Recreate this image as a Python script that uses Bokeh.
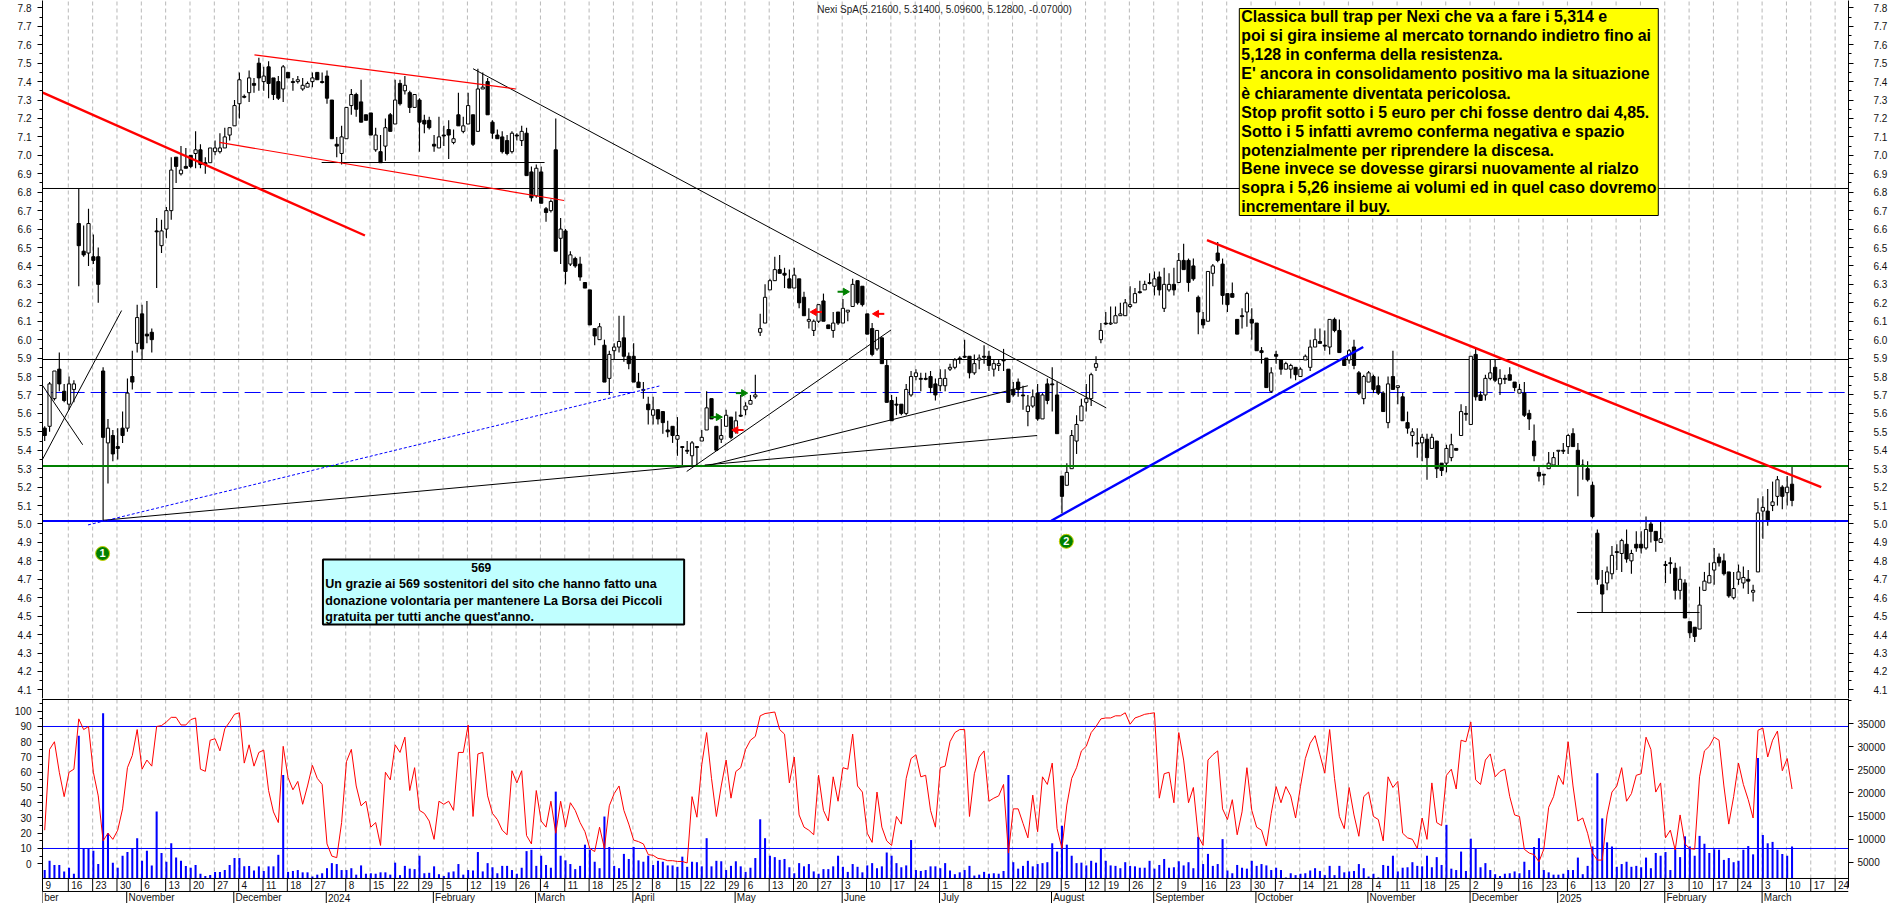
from bokeh.plotting import figure
from bokeh.layouts import column
from bokeh.embed import file_html
from bokeh.resources import INLINE
from bokeh.core.properties import value
from bokeh.models import Range1d, LinearAxis, SingleIntervalTicker, FixedTicker, PrintfTickFormatter, Label

opens = [
5.52,5.53,5.68,5.84,5.72,5.65,5.73,6.63,6.48,6.47,6.45,6.45,5.83,5.44,5.48,5.42,5.52,5.52,5.80,5.98,
6.14,6.03,6.04,6.59,6.51,6.60,6.70,6.99,6.90,6.94,7.00,7.01,7.03,6.96,6.96,7.02,7.02,7.04,7.11,7.16,
7.28,7.32,7.34,7.39,7.50,7.40,7.48,7.42,7.40,7.36,7.45,7.40,7.40,7.36,7.37,7.40,7.45,7.40,7.43,7.30,
7.06,7.01,7.09,7.27,7.33,7.29,7.22,7.23,7.03,7.02,7.05,7.22,7.17,7.39,7.35,7.34,7.26,7.30,7.19,7.19,
7.06,7.04,7.11,7.14,7.07,7.22,7.13,7.17,7.22,7.13,7.36,7.40,7.18,7.11,7.10,7.08,7.02,7.11,7.08,7.12,
6.91,6.78,6.91,6.71,6.70,7.03,6.55,6.59,6.41,6.44,6.41,6.31,6.27,6.06,6.00,5.97,5.79,5.94,5.96,6.01,
5.91,5.91,5.77,5.725,5.65,5.59,5.62,5.61,5.51,5.53,5.46,5.42,5.40,5.37,5.42,5.45,5.51,5.68,5.53,5.46,
5.53,5.58,5.50,5.59,5.62,5.65,5.69,6.04,6.09,6.27,6.32,6.38,6.36,6.33,6.28,6.33,6.23,6.10,6.05,6.10,
6.21,6.08,6.05,6.15,6.09,6.15,6.18,6.32,6.29,6.14,6.06,5.95,6.01,5.86,5.67,5.65,5.65,5.60,5.70,5.80,
5.79,5.79,5.80,5.76,5.75,5.75,5.84,5.85,5.90,5.91,5.91,5.82,5.89,5.91,5.91,5.84,5.86,5.89,5.84,5.73,
5.77,5.70,5.61,5.64,5.71,5.57,5.76,5.76,5.70,5.26,5.21,5.30,5.45,5.56,5.66,5.68,5.85,6.00,6.09,6.085,
6.09,6.13,6.13,6.18,6.20,6.26,6.27,6.31,6.29,6.34,6.17,6.27,6.30,6.31,6.43,6.43,6.40,6.23,6.11,6.10,
6.36,6.47,6.41,6.25,6.25,6.11,6.13,6.15,6.11,6.09,5.94,5.90,5.72,5.92,5.89,5.84,5.84,5.85,5.80,5.89,
5.85,5.96,5.99,5.97,5.96,6.11,6.05,5.90,5.89,5.96,5.82,5.68,5.77,5.80,5.75,5.71,5.55,5.80,5.74,5.69,
5.55,5.48,5.44,5.44,5.46,5.41,5.45,5.33,5.33,5.36,5.41,5.48,5.60,5.54,5.92,5.70,5.70,5.79,5.85,5.76,
5.79,5.81,5.77,5.71,5.71,5.60,5.45,5.28,5.27,5.30,5.32,5.395,5.40,5.42,5.49,5.40,5.32,5.30,5.21,4.95,
4.67,4.68,4.73,4.85,4.84,4.89,4.80,4.89,4.89,4.87,5.00,4.96,4.90,4.78,4.79,4.76,4.64,4.68,4.47,4.44,
4.43,4.64,4.68,4.75,4.82,4.80,4.74,4.60,4.70,4.68,4.70,4.63,4.74,5.07,5.07,5.10,5.15,5.20,5.17,5.216]
closes = [
5.48,5.76,5.83,5.76,5.67,5.76,5.76,6.51,6.46,6.63,6.43,6.30,5.47,5.52,5.38,5.41,5.48,5.71,5.77,6.12,
5.95,6.02,6.00,6.585,6.59,6.70,6.92,6.94,6.92,6.93,6.94,7.03,6.95,6.95,7.04,7.04,7.04,7.10,7.15,7.27,
7.41,7.315,7.42,7.38,7.42,7.43,7.39,7.33,7.31,7.48,7.42,7.395,7.41,7.38,7.39,7.42,7.41,7.395,7.31,7.09,
7.05,7.10,7.26,7.33,7.25,7.18,7.19,7.11,7.11,6.96,7.15,7.13,7.30,7.28,7.38,7.26,7.33,7.18,7.17,7.15,
7.05,7.10,7.105,7.11,7.09,7.16,7.16,7.27,7.06,7.36,7.37,7.22,7.12,7.09,7.02,7.01,7.12,7.105,7.13,6.89,
6.77,6.93,6.74,6.69,6.75,6.48,6.60,6.37,6.46,6.40,6.34,6.28,6.08,6.02,6.07,5.77,5.92,5.96,5.99,5.91,
5.87,5.77,5.74,5.73,5.62,5.62,5.57,5.55,5.50,5.48,5.48,5.415,5.395,5.44,5.415,5.47,5.63,5.57,5.40,5.48,
5.59,5.47,5.56,5.585,5.64,5.67,5.70,6.06,6.23,6.32,6.38,6.36,6.35,6.28,6.35,6.20,6.13,6.11,6.10,6.19,
6.10,6.06,6.09,6.09,6.17,6.16,6.30,6.20,6.19,6.03,5.92,6.05,5.87,5.66,5.56,5.645,5.60,5.73,5.80,5.82,
5.785,5.785,5.74,5.70,5.79,5.79,5.85,5.89,5.895,5.905,5.82,5.87,5.90,5.905,5.86,5.87,5.87,5.885,5.66,5.70,
5.73,5.695,5.64,5.69,5.57,5.70,5.67,5.755,5.49,5.15,5.28,5.48,5.54,5.64,5.68,5.81,5.87,6.05,6.085,6.09,
6.13,6.14,6.20,6.19,6.25,6.255,6.30,6.305,6.33,6.27,6.30,6.30,6.27,6.43,6.38,6.31,6.33,6.15,6.08,6.37,
6.40,6.43,6.24,6.19,6.23,6.03,6.125,6.25,6.09,5.94,5.93,5.74,5.82,5.91,5.84,5.87,5.86,5.81,5.84,5.91,
5.96,6.00,5.98,5.965,6.11,6.05,5.93,5.86,5.94,5.86,5.71,5.80,5.82,5.73,5.71,5.61,5.76,5.73,5.75,5.56,
5.52,5.50,5.435,5.47,5.36,5.47,5.30,5.29,5.41,5.43,5.40,5.61,5.595,5.91,5.69,5.67,5.79,5.82,5.78,5.79,
5.785,5.78,5.74,5.73,5.59,5.57,5.37,5.26,5.265,5.33,5.36,5.40,5.395,5.48,5.42,5.32,5.315,5.24,5.04,4.70,
4.62,4.74,4.83,4.845,4.91,4.81,4.84,4.87,4.87,4.97,4.96,4.91,4.92,4.775,4.785,4.64,4.70,4.49,4.41,4.39,
4.56,4.69,4.72,4.79,4.79,4.73,4.61,4.65,4.74,4.71,4.69,4.64,5.06,5.09,5.02,5.12,5.24,5.15,5.20,5.128]
highs = [
5.53,5.77,5.83,5.93,5.76,5.80,5.78,6.82,6.62,6.71,6.57,6.50,5.85,5.57,5.51,5.52,5.61,5.79,5.94,6.19,
6.19,6.21,6.06,6.66,6.65,6.72,6.99,6.99,7.05,7.04,7.00,7.13,7.06,6.99,7.04,7.08,7.12,7.15,7.15,7.30,
7.45,7.33,7.46,7.42,7.53,7.48,7.51,7.42,7.43,7.49,7.45,7.42,7.43,7.42,7.40,7.45,7.45,7.45,7.46,7.30,
7.10,7.16,7.26,7.36,7.34,7.41,7.22,7.23,7.15,7.11,7.20,7.23,7.41,7.41,7.43,7.35,7.33,7.31,7.22,7.21,
7.11,7.21,7.16,7.19,7.14,7.34,7.21,7.34,7.22,7.47,7.45,7.42,7.19,7.14,7.13,7.11,7.13,7.12,7.16,7.15,
6.94,6.95,6.94,6.72,6.76,7.20,6.66,6.60,6.48,6.45,6.45,6.31,6.27,6.06,6.09,6.00,5.94,5.98,6.13,6.13,
5.93,5.98,5.82,5.77,5.69,5.69,5.62,5.61,5.56,5.53,5.58,5.42,5.45,5.45,5.42,5.51,5.72,5.68,5.53,5.57,
5.62,5.58,5.61,5.70,5.66,5.70,5.81,6.14,6.30,6.33,6.45,6.46,6.39,6.38,6.39,6.33,6.26,6.17,6.11,6.19,
6.25,6.08,6.15,6.15,6.22,6.16,6.33,6.32,6.29,6.14,6.09,6.05,6.01,5.89,5.70,5.69,5.65,5.76,5.83,5.84,
5.82,5.82,5.83,5.79,5.84,5.84,5.87,5.90,5.91,6.00,5.91,5.92,5.92,5.97,5.94,5.89,5.89,5.95,5.84,5.77,
5.79,5.75,5.70,5.73,5.76,5.71,5.79,5.85,5.77,5.26,5.33,5.51,5.59,5.68,5.76,5.82,5.91,6.09,6.15,6.18,
6.18,6.20,6.22,6.29,6.28,6.32,6.32,6.36,6.37,6.37,6.39,6.36,6.39,6.47,6.52,6.44,6.44,6.24,6.15,6.37,
6.41,6.53,6.44,6.25,6.31,6.11,6.17,6.26,6.17,6.09,5.96,5.90,5.85,5.94,5.89,5.88,5.87,5.85,5.85,5.92,
6.00,6.06,6.06,6.05,6.11,6.12,6.11,5.91,5.95,6.00,5.83,5.81,5.83,5.81,5.80,5.72,5.80,5.94,5.75,5.71,
5.61,5.52,5.52,5.49,5.49,5.49,5.45,5.33,5.43,5.49,5.41,5.65,5.64,5.91,5.95,5.72,5.81,5.89,5.89,5.84,
5.81,5.85,5.77,5.76,5.77,5.62,5.54,5.31,5.27,5.39,5.39,5.40,5.44,5.49,5.52,5.44,5.35,5.34,5.23,4.97,
4.75,4.77,4.88,4.89,4.92,4.97,4.86,4.96,4.96,5.04,5.02,4.96,5.02,4.80,4.82,4.79,4.77,4.70,4.47,4.44,
4.66,4.74,4.79,4.87,4.84,4.84,4.74,4.74,4.78,4.77,4.75,4.67,5.14,5.15,5.19,5.23,5.26,5.21,5.26,5.314]
lows = [
5.45,5.50,5.67,5.72,5.66,5.62,5.66,6.29,6.45,6.40,6.41,6.20,5.02,5.22,5.34,5.35,5.44,5.50,5.73,5.93,
5.89,5.98,5.93,6.28,6.47,6.55,6.65,6.85,6.89,6.93,6.93,6.93,6.93,6.90,6.96,7.00,7.01,7.04,7.08,7.16,
7.20,7.31,7.29,7.34,7.35,7.35,7.31,7.30,7.30,7.29,7.42,7.35,7.39,7.35,7.37,7.37,7.41,7.39,7.28,7.09,
6.99,6.95,7.09,7.22,7.21,7.18,7.19,7.11,7.02,6.96,6.97,7.13,7.17,7.27,7.33,7.23,7.26,7.02,7.12,7.14,
7.02,7.04,7.05,6.98,7.06,7.16,7.12,7.17,7.05,7.13,7.36,7.22,7.09,7.09,7.01,7.00,7.01,7.08,7.05,6.89,
6.75,6.77,6.74,6.64,6.69,6.48,6.41,6.30,6.40,6.39,6.32,6.28,6.08,5.97,6.00,5.77,5.70,5.89,5.93,5.88,
5.84,5.77,5.74,5.68,5.54,5.54,5.54,5.49,5.47,5.44,5.37,5.32,5.38,5.32,5.32,5.45,5.51,5.57,5.40,5.44,
5.53,5.46,5.49,5.58,5.59,5.65,5.68,6.02,6.09,6.27,6.32,6.36,6.28,6.28,6.28,6.17,6.13,6.06,6.02,6.09,
6.10,6.06,6.01,6.08,6.09,6.10,6.18,6.19,6.18,6.03,5.91,5.94,5.87,5.66,5.56,5.59,5.59,5.59,5.69,5.78,
5.72,5.78,5.71,5.67,5.72,5.72,5.83,5.84,5.87,5.90,5.79,5.81,5.84,5.87,5.83,5.80,5.83,5.83,5.66,5.69,
5.69,5.62,5.53,5.63,5.56,5.57,5.65,5.61,5.49,5.06,5.21,5.30,5.38,5.56,5.61,5.64,5.83,5.98,6.08,6.08,
6.09,6.13,6.13,6.17,6.20,6.25,6.27,6.30,6.24,6.24,6.15,6.26,6.24,6.31,6.38,6.26,6.32,6.03,6.06,6.10,
6.29,6.42,6.19,6.15,6.23,6.03,6.06,6.07,6.00,5.94,5.87,5.74,5.71,5.87,5.81,5.84,5.79,5.78,5.80,5.89,
5.83,5.96,5.98,5.94,5.92,6.04,5.93,5.86,5.87,5.84,5.70,5.65,5.77,5.71,5.70,5.61,5.52,5.73,5.65,5.56,
5.49,5.42,5.36,5.34,5.24,5.41,5.25,5.26,5.28,5.34,5.40,5.48,5.56,5.54,5.67,5.67,5.67,5.78,5.77,5.70,
5.76,5.78,5.72,5.71,5.58,5.51,5.34,5.23,5.21,5.30,5.32,5.32,5.38,5.38,5.42,5.15,5.24,5.23,5.03,4.67,
4.52,4.64,4.70,4.75,4.74,4.79,4.73,4.85,4.84,4.86,4.90,4.85,4.90,4.68,4.73,4.59,4.59,4.49,4.38,4.36,
4.43,4.64,4.68,4.67,4.77,4.72,4.60,4.59,4.67,4.65,4.62,4.58,4.74,4.92,4.99,5.07,5.10,5.08,5.10,5.096]

oscillator = [
22,75,80,60,44,60,62,95,88,90,60,44.5,15,20,16,22,36,63,71,88,62,68,64,90,90.6,93,96,96,91,91,94.5,95.6,62,60.6,81,82,74,88.5,93,98,99,66,78,64,73,74.5,48,34,27,77,56.5,48.5,54,39,51,64.5,56,52,13,5,4,27,67,75,51,38,41,24,27,12,60,55,78,73,83,48,63,35,33,28,16,41,39,41,35,73,73,91,31,72,73,44.5,33,29,22,19,61,53,61,18.5,13,48,28,24,41,20,41,24,40,35,27,21,10,8,24,10,38,46,51,35,26,
15.5,14.5,13,6,5.5,3.5,3,2,2,1.5,1.5,0.5,44,30.5,65,86,56,31,51,68,43,60.5,63,75,81,83.5,97,98.5,99,99.5,88,85,53,70,32,24,22,19,58,35,28,57,41,63,62,85,51,47,20,14,47,24,15,12,31,26,56,69,71.5,57,58,35,24,63,64,80,86,88,88,31,59,70,74,41,43,44.5,52,7,36,36,26.5,17,45,21,57,52,66,23,10,38.5,56,63,74,77,86,90,95,95.6,95.6,97,97,99,91.5,95.6,96.7,98,98.5,99,43,59,60,40,86,68,40,50,18,12,68,71.5,74,36,29,42,19,34,63,35,24,
22,11.6,33,50.6,40,50.6,44.5,30,50.6,69,79,84,71.5,59.4,88,56,31,23,50,32,18,44,47,31,29,15,57,50,54,20,17,16,10,30,16,53,27,25,58,62,49,81,80,93,55,52,68,72,57,60.5,62,44,32,31,9.5,7,6,1.3,9.5,37,44,58,52,80,51,28,30,20,7,2.4,2.4,32,47,51,63,41,46,58,59,83,75,47,53,17,22,9,32,13,10,9.5,57,74,77,83,81,51,26,44,66,52,42,30,87.5,89,70,81,87,61,69,49]

volumes = [
3300,5300,4400,4400,3000,3800,2500,32400,8000,8000,7500,4600,37300,11300,4900,3800,6400,7200,7900,10200,
5300,7500,4300,16000,7000,5100,9100,6000,5300,4200,3800,4400,2500,2000,2200,2900,2900,3300,4400,5900,
5900,4100,4200,3200,4100,3100,4100,4100,6600,23900,2900,3100,3300,2800,2800,1900,2300,2600,3700,4800,
4600,3300,3300,3700,2300,4300,2500,2600,2500,2800,2800,2300,4900,2200,4200,3600,3500,6400,2600,2700,
4100,2400,2000,2800,3000,4600,2300,3300,3200,7200,3000,4800,3900,2600,4200,4200,3300,2500,3800,7400,
7700,4200,6400,4400,3800,20300,6400,5400,4600,3500,4200,8800,7700,5100,3700,14900,8300,4200,3700,6800,
5700,8300,5400,5100,6400,4400,5300,5100,4300,4300,4000,6200,4000,5100,5000,4100,10200,4100,5300,5200,
3300,4200,5200,4100,2900,3800,5900,14300,10200,6400,6100,5500,5700,3900,2600,4800,4100,4600,3000,2500,
3500,3500,4100,6400,4000,2900,4600,4000,2800,4300,4800,3700,4100,7100,6400,4800,3900,4300,9800,3300,
3100,3300,4100,4100,3700,4800,3200,2400,2800,3300,4200,2100,2300,2900,2500,2600,2500,3100,23900,5000,
3600,4200,5300,4100,4600,4800,5000,9100,7300,12900,8800,6400,4800,4900,4300,5300,4900,8000,5300,4300,
4200,3700,5000,4200,4100,3800,3800,5300,3600,4400,5700,3800,3900,5200,4300,5000,3700,10500,4600,6800,
4200,4600,10000,3200,2600,4400,3800,3600,5300,4200,4600,4300,3300,3800,3300,1700,2600,2200,2500,2600,
3200,3700,3100,2200,4200,2200,4200,2800,3000,3100,4600,3700,1900,2500,1700,4400,4200,6400,3000,3800,
3900,5000,4200,4100,6400,3900,6100,4400,13100,3600,3300,7300,3100,10100,8000,3900,4800,3300,2400,2000,
2500,2600,3000,2600,5100,3300,8300,10200,3300,2800,2300,2300,2500,3300,3300,6000,2400,4200,8400,24300,
14500,9300,8400,4000,4600,5100,4000,4200,3900,6000,3700,7000,6400,7200,3300,7800,6100,10600,8400,6400,
10700,9000,7000,7800,7700,5500,5900,5000,5300,7700,8500,6700,27600,10900,9100,9400,7700,6800,6400,8400]

# Week and month starts, as candle numbers, with their labels.
week_slots = [-0.3,5,10,15,20,25,30,35,40,45,50,55,62,67,72,77,82,87,92,97,102,107,112,117,
              121,125,130,135,140,144,149,154,159,164,169,174,179,184,189,194,199,204,209,214,218,223,228,233,238,243,248,
              253,258,263,268,273,278,283,288,293,298,303,308,313,318,323,328,333,338,343,348,353,358,363,368]
week_labels = ["9","16","23","30","6","13","20","27","4","11","18","27","8","15","22","29","5","12","19","26","4","11","18","25",
               "2","8","15","22","29","6","13","20","27","3","10","17","24","1","8","15","22","29","5","12","19","26","2","9","16","23","30",
               "7","14","21","28","4","11","18","25","2","9","16","23","6","13","20","27","3","10","17","24","3","10","17","24"]
month_slots = [-0.3,17,39,58,80,101,121,142,164,184,207,228,249,272,293,311,333,353]
month_labels = ["ber","November","December","2024","February","March","April","May","June","July","August",
                "September","October","November","December","2025","February","March"]

# Drawn lines on the price chart: start candle, start price, end candle, end price.
thick_red = [(-0.4,7.34,65.8,6.565),(238.8,6.54,365,5.20)]
thin_red = [(43.1,7.545,96.8,7.36),(35.9,7.07,106.7,6.755)]
thin_black = [(88,7.47,218.1,5.63),(-0.4,5.353,15.8,6.158),(-0.4,5.75,7.8,5.43),
              (12,5.02,133.5,5.315),(135.6,5.32,203.9,5.48),(136.8,5.32,202,5.75),(131.9,5.285,173.9,6.053),
              (56.9,6.9611,102.7,6.9611),(314.8,4.5199,340,4.5199)]
thick_blue = [(206.8,5.018,270.9,5.96)]
dotted_blue = [(8.9,4.995,126.5,5.75)]
levels_black = [6.8201,5.8924]
level_dashed = 5.7134
level_green = 5.3147
level_blue = 5.0163
arrows_green = [(163.9,6.26),(143,5.71),(137.8,5.58)]
arrows_red = [(158.7,6.15),(171.5,6.14),(142.6,5.51)]
badges = [(11.9,4.84,"1"),(209.9,4.906,"2")]

title_text = "Nexi SpA(5.21600, 5.31400, 5.09600, 5.12800, -0.07000)"
yellow_lines = ["Classica bull trap per Nexi che va a fare i 5,314 e",
 "poi si gira insieme al mercato tornando indietro fino ai",
 "5,128 in conferma della resistenza.",
 "E' ancora in consolidamento positivo ma la situazione",
 "è chiaramente diventata pericolosa.",
 "Stop profit sotto i 5 euro per chi fosse dentro dai 4,85.",
 "Sotto i 5 infatti avremo conferma negativa e spazio",
 "potenzialmente per riprendere la discesa.",
 "Bene invece se dovesse girarsi nuovamente al rialzo",
 "sopra i 5,26 insieme ai volumi ed in quel caso dovremo",
 "incrementare il buy."]
cyan_lines = ["Un grazie ai 569 sostenitori del sito che hanno fatto una",
 "donazione volontaria per mantenere La Borsa dei Piccoli",
 "gratuita per tutti anche quest'anno."]

n = len(opens)
assert len(closes) == n and len(highs) == n and len(lows) == n, (n, len(closes), len(highs), len(lows))
assert len(oscillator) == n and len(volumes) == n, (n, len(oscillator), len(volumes))
assert len(week_slots) == len(week_labels), (len(week_slots), len(week_labels))
assert len(month_slots) == len(month_labels)
slots = list(range(n))

FONT = "Liberation Sans"
X0, X1 = -0.452, 370.6
P_LOW, P_HIGH = 4.05332, 7.84
PX = 184.33

def py(y):  # screen row of the top panel as a price
    return P_HIGH - y / PX
def sx(x):  # screen column as a candle number
    return (x - 44.2) / 4.87

x_range = Range1d(X0, X1)
p1 = figure(width=1890, height=698, x_range=x_range, y_range=Range1d(P_LOW, P_HIGH),
            toolbar_location=None, output_backend="svg", min_border_left=42, min_border_right=41,
            min_border_top=0, min_border_bottom=0, x_axis_location=None, outline_line_color=None)
p1.xgrid.visible = False
p1.ygrid.visible = False

def style_axis(ax, standoff):
    ax.major_label_text_font = FONT
    ax.major_label_text_font_size = "10px"
    ax.major_label_text_color = "#111111"
    ax.major_label_standoff = standoff
    ax.major_tick_out = 5
    ax.major_tick_in = 0
    ax.minor_tick_out = 3
    ax.minor_tick_in = 0
    ax.axis_line_color = "black"
    ax.major_tick_line_color = "black"
    ax.minor_tick_line_color = "black"

def price_axis(ax, standoff):
    ax.ticker = SingleIntervalTicker(interval=0.1, num_minor_ticks=2)
    ax.formatter = PrintfTickFormatter(format="%.1f")
    style_axis(ax, standoff)

price_axis(p1.yaxis[0], 6)
right_price = LinearAxis()
price_axis(right_price, 20)
p1.add_layout(right_price, "right")

GRID = dict(line_color="#b8b8b8", line_width=1, line_dash="4 3")
gx = [s - 0.15 for s in week_slots[1:]]
p1.segment(x0=gx, x1=gx, y0=[P_LOW] * len(gx), y1=[P_HIGH] * len(gx), **GRID)

p1.segment(x0=[X0] * 2, x1=[X1] * 2, y0=levels_black, y1=levels_black, line_color="black", line_width=1)
p1.segment(x0=[0.4], x1=[X1], y0=[level_dashed], y1=[level_dashed], line_color="#0000ff", line_width=1, line_dash="16 6")

# Candles
p1.segment(x0=slots, x1=slots, y0=lows, y1=highs, line_color="black", line_width=1.15)
body_top = [max(o, c) for o, c in zip(opens, closes)]
body_bot = [min(o, c) for o, c in zip(opens, closes)]
body_col = ["white" if c >= o else "black" for o, c in zip(opens, closes)]
p1.vbar(x=slots, width=0.66, top=body_top, bottom=body_bot, fill_color=body_col, line_color="black", line_width=1)

def draw(lines, **kw):
    p1.segment(x0=[l[0] for l in lines], y0=[l[1] for l in lines],
               x1=[l[2] for l in lines], y1=[l[3] for l in lines], **kw)

p1.segment(x0=[X0], x1=[X1], y0=[level_green], y1=[level_green], line_color="#008000", line_width=2)
p1.segment(x0=[X0], x1=[X1], y0=[level_blue], y1=[level_blue], line_color="#0000ff", line_width=2)
draw(thin_black, line_color="black", line_width=1)
draw(thin_red, line_color="#ff0000", line_width=1.2)
draw(thick_red, line_color="#ff0000", line_width=2.4)
draw(thick_blue, line_color="#0000ff", line_width=2.4)
draw(dotted_blue, line_color="#0000ff", line_width=1, line_dash="3 2")

# Small arrows
p1.segment(x0=[a[0] - 1.0 for a in arrows_green], x1=[a[0] + 0.6 for a in arrows_green],
           y0=[a[1] for a in arrows_green], y1=[a[1] for a in arrows_green], line_color="#008000", line_width=2)
p1.scatter(x=[a[0] + 0.6 for a in arrows_green], y=[a[1] for a in arrows_green], marker="triangle", angle=-1.5708,
           size=7, fill_color="#008000", line_color="#008000")
p1.segment(x0=[a[0] - 0.6 for a in arrows_red], x1=[a[0] + 1.0 for a in arrows_red],
           y0=[a[1] for a in arrows_red], y1=[a[1] for a in arrows_red], line_color="#ff0000", line_width=2)
p1.scatter(x=[a[0] - 0.6 for a in arrows_red], y=[a[1] for a in arrows_red], marker="triangle", angle=1.5708,
           size=7, fill_color="#ff0000", line_color="#ff0000")

# Numbered badges
p1.scatter(x=[b[0] for b in badges], y=[b[1] for b in badges], marker="circle", size=14,
           fill_color="#008000", line_color="#c8d000", line_width=1)
p1.text(x=[b[0] for b in badges], y=[b[1] for b in badges], text=[b[2] for b in badges], text_color="white",
        text_font=value(FONT), text_font_style="bold", text_font_size="11px", text_align="center", text_baseline="middle")

# Title
p1.text(x=[sx(944.6)], y=[py(8.5)], text=[title_text], text_font=value(FONT), text_font_size="10px",
        text_color="#222222", text_align="center", text_baseline="middle")

# Yellow note
p1.quad(left=[sx(1239.5)], right=[sx(1658.7)], top=[py(8)], bottom=[py(215)], fill_color="#ffff00", line_color="black", line_width=1)
yellow_y = [16, 35, 54.3, 73.3, 92.7, 111.7, 130.7, 149.7, 168.3, 187.3, 205.7]
p1.text(x=[sx(1241.5)] * len(yellow_lines), y=[py(v) for v in yellow_y], text=yellow_lines, text_font=value(FONT),
        text_font_style="bold", text_font_size="15.9px", text_color="black", text_baseline="middle")

# Cyan note
p1.quad(left=[sx(322.6)], right=[sx(684)], top=[py(559)], bottom=[py(624)], fill_color="#c0ffff", line_color="black", line_width=2)
p1.text(x=[sx(481)], y=[py(567.3)], text=["569"], text_font=value(FONT), text_font_style="bold", text_font_size="12px",
        text_align="center", text_baseline="middle", text_color="black")
cyan_y = [583.7, 600.7, 616.7]
p1.text(x=[sx(325)] * 3, y=[py(v) for v in cyan_y], text=cyan_lines, text_font=value(FONT), text_font_style="bold",
        text_font_size="12.5px", text_baseline="middle", text_color="black")

# Lower panel
O_LOW, O_HIGH = -26.07, 108.36
V_LOW, V_HIGH = -3954, 40485
V_BASE = 1400
ROW1, ROW2 = -9.67, -18.2
p2 = figure(width=1890, height=205, x_range=x_range, y_range=Range1d(O_LOW, O_HIGH),
            toolbar_location=None, output_backend="svg", min_border_left=42, min_border_right=41,
            min_border_top=0, min_border_bottom=0, x_axis_location=None, outline_line_color=None)
p2.xgrid.visible = False
p2.ygrid.visible = False
p2.extra_y_ranges = {"vol": Range1d(V_LOW, V_HIGH)}

ax_left = p2.yaxis[0]
ax_left.ticker = FixedTicker(ticks=list(range(0, 101, 10)), minor_ticks=list(range(5, 106, 10)))
ax_left.bounds = (ROW2, O_HIGH)
ax_right = LinearAxis(y_range_name="vol", bounds=(-500, V_HIGH),
                      ticker=FixedTicker(ticks=[5000, 10000, 15000, 20000, 25000, 30000, 35000], minor_ticks=[40000]))
ax_right.formatter = PrintfTickFormatter(format="%d")
p2.add_layout(ax_right, "right")
style_axis(ax_left, 6)
style_axis(ax_right, 4)

p2.segment(x0=gx, x1=gx, y0=[ROW1] * len(gx), y1=[O_HIGH] * len(gx), **GRID)
p2.vbar(x=slots, width=0.42, top=volumes, bottom=V_BASE, fill_color="#0000ff", line_color=None, y_range_name="vol")
p2.segment(x0=[X0] * 2, x1=[X1] * 2, y0=[90, 10], y1=[90, 10], line_color="#0000ff", line_width=1)
p2.line(x=slots, y=oscillator, line_color="#ff0000", line_width=1)

# Frame and date rows
p2.segment(x0=[X0] * 3, x1=[X1] * 3, y0=[107.7, ROW1, ROW2], y1=[107.7, ROW1, ROW2], line_color="black", line_width=1)
wx = [s - 0.15 for s in week_slots]
p2.segment(x0=wx, x1=wx, y0=[ROW2] * len(wx), y1=[ROW1] * len(wx), line_color="black", line_width=1)
mx = [s - 0.15 for s in month_slots]
p2.segment(x0=mx, x1=mx, y0=[O_LOW] * len(mx), y1=[ROW2] * len(mx), line_color="black", line_width=1)
p2.text(x=[w + 0.6 for w in wx], y=[-14.2] * len(wx), text=week_labels, text_font=value(FONT), text_font_size="10px",
        text_color="#111111", text_baseline="middle")
p2.text(x=[m + 0.35 for m in mx], y=[-22.4] * len(mx), text=month_labels, text_font=value(FONT), text_font_size="10px",
        text_color="#111111", text_baseline="middle")

p2.add_layout(Label(x=1810, y=27, x_units="screen", y_units="screen", text="x1000", text_font=FONT, text_font_size="8px",
                    text_color="#222222", border_line_color="#666666", border_line_width=1,
                    padding=1))

page = column(p1, p2, spacing=0)
open("out.html", "w").write(file_html(page, INLINE))
